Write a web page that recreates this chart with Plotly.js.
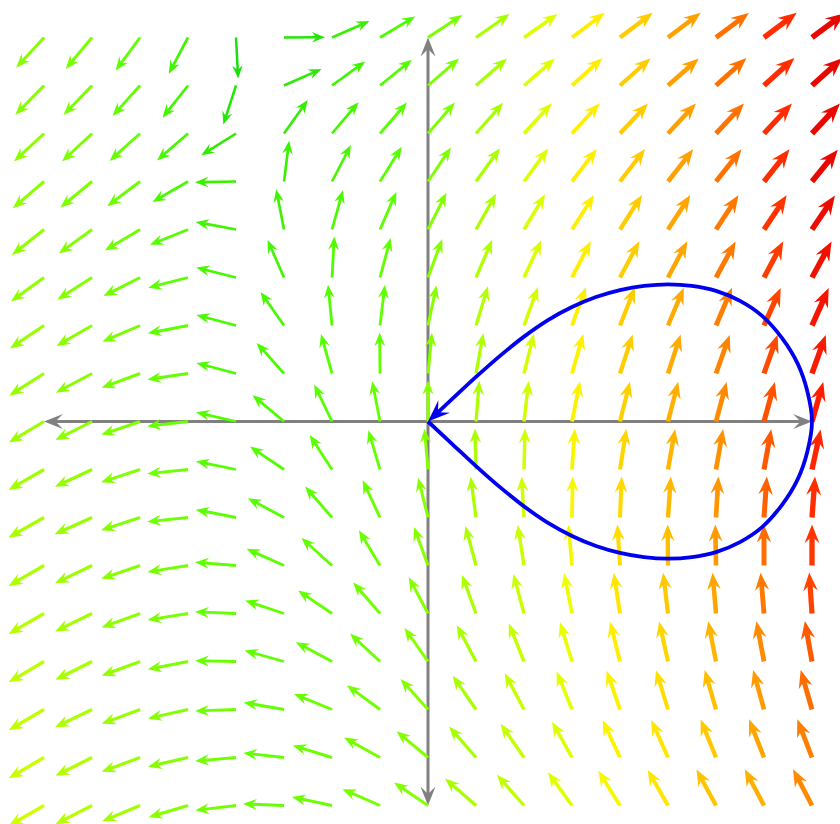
<!DOCTYPE html>
<html><head><meta charset="utf-8">
<script src="https://cdn.plot.ly/plotly-3.0.1.min.js"></script>
<style>html,body{margin:0;padding:0;background:#fff;}#chart{width:840px;height:824px;}</style>
</head><body><div id="chart"></div>
<script>
// grid of the vector field (data units)
const gridX = [-1,-0.875,-0.75,-0.625,-0.5,-0.375,-0.25,-0.125,0,0.125,0.25,0.375,0.5,0.625,0.75,0.875,1];
const gridY = [1,0.875,0.75,0.625,0.5,0.375,0.25,0.125,0,-0.125,-0.25,-0.375,-0.5,-0.625,-0.75,-0.875,-1];

// arrow directions (degrees), one row per y value, columns follow gridX
const angYp1000 = [227.3,230,233.6,242,273,0.5,23.7,31,33.4,35,35,37,37,37,36.7,37,36.5];
const angYp0875 = [225.6,226,228,231.6,252,23.7,36,39,41,41,41,42,41.8,41.4,42,42,42];
const angYp0750 = [223,223,222,221,212,54.6,49.8,48.9,49,48.5,47.5,47.5,47,47,47,47,47];
const angYp0625 = [220.7,219.5,217,210,181,82.8,62.6,58,56,54.3,53.8,52.7,52.3,52,51.6,51.6,51];
const angYp0500 = [218.4,216,211,202,169.4,101,74.4,66.5,63.4,60.6,59,57.4,57.4,57,56.8,56.4,56];
const angYp0375 = [216,212.6,207,194.5,166,113.6,86.8,75,69.7,66.7,65,62.6,62,62,61.5,62,61.5];
const angYp0250 = [214,210,203.4,191,165,125,95.6,83,78,73,70,70,68.6,67.3,67,66,66];
const angYp0125 = [212.4,208,200.5,188.4,165,131.8,105.6,90.5,84.4,79.7,76,74,72,72,70.4,70.5,70.4];
const angY0000  = [211,206.8,199,186.5,167,140,115.7,101,90,85.3,83.3,78.7,76,75.5,75,74.6,74];
const angYm0125 = [210,205,198,186,168.5,146,123,106.5,95,91.4,88.5,86,81,80,80,79.8,77.8];
const angYm0250 = [209.5,204,198,186,169,152,131,115,104,97.5,93.3,89,87.7,86,86.7,86,85.8];
const angYm0375 = [210,205.7,199,189,175.4,156,138,121,110,105,98.8,95,93.7,90.5,91,90,90];
const angYm0500 = [210,206,200,189,177.7,161.4,145.8,130.7,118,110,105,101,98.7,96.8,94.8,94.8,93.9];
const angYm0625 = [210.5,206.6,200.3,191,179,164.4,151.8,137,125,117.8,111.8,107,104,102.5,101,100.6,100];
const angYm0750 = [210.5,205.7,200.5,192.6,182,170,157.8,143.7,132,124.5,118,112,109,107,106,105.4,106];
const angYm0875 = [210.5,206.6,200.5,193,185,173.7,163,151,140,131,124.7,119,115,114,112,111.4,111];
const angYm1000 = [210,207,202.6,196.5,186.8,177.7,168,156.5,146,139,131.4,126,122,119.7,118.5,118,117.6];

// relative field strength (0..1)
const magYp1000 = [.30,.27,.22,.14,.02,.06,.12,.18,.27,.36,.47,.56,.64,.73,.81,.91,.98];
const magYp0875 = [.30,.27,.22,.15,.06,.08,.14,.19,.27,.36,.47,.56,.64,.73,.81,.91,.98];
const magYp0750 = [.31,.27,.23,.16,.09,.10,.15,.20,.28,.36,.47,.56,.64,.73,.81,.91,.98];
const magYp0625 = [.31,.28,.24,.17,.12,.12,.16,.20,.28,.37,.47,.56,.64,.73,.81,.91,.98];
const magYp0500 = [.32,.29,.25,.20,.14,.13,.17,.21,.29,.37,.46,.56,.64,.72,.80,.90,.97];
const magYp0375 = [.32,.29,.26,.21,.16,.15,.18,.22,.30,.38,.46,.56,.64,.72,.80,.89,.96];
const magYp0250 = [.33,.30,.27,.22,.17,.16,.19,.22,.30,.38,.45,.55,.64,.71,.79,.88,.95];
const magYp0125 = [.33,.30,.27,.23,.18,.17,.20,.22,.30,.37,.45,.55,.64,.71,.78,.87,.94];
const magY0000  = [.34,.31,.28,.24,.19,.18,.20,.23,.30,.37,.44,.55,.63,.70,.77,.86,.93];
const magYm0125 = [.35,.32,.29,.25,.20,.19,.21,.23,.30,.37,.44,.54,.62,.69,.76,.85,.92];
const magYm0250 = [.36,.33,.29,.25,.21,.20,.21,.24,.30,.37,.44,.53,.61,.68,.75,.84,.91];
const magYm0375 = [.37,.34,.30,.26,.22,.21,.22,.24,.30,.37,.43,.52,.60,.67,.74,.82,.90];
const magYm0500 = [.39,.35,.31,.27,.23,.22,.23,.25,.30,.37,.43,.50,.58,.65,.72,.80,.88];
const magYm0625 = [.40,.36,.32,.28,.24,.22,.23,.25,.30,.36,.42,.49,.56,.62,.69,.77,.85];
const magYm0750 = [.41,.37,.33,.29,.25,.23,.24,.25,.30,.36,.42,.48,.55,.60,.67,.74,.82];
const magYm0875 = [.43,.38,.34,.29,.25,.23,.24,.26,.29,.36,.42,.47,.54,.58,.65,.72,.79];
const magYm1000 = [.44,.39,.35,.30,.26,.24,.24,.26,.29,.36,.41,.47,.53,.58,.66,.70,.77];

// closed curve, traversed from the origin (lower branch first, then back along the upper branch)
const curveX = [0,0.0625,0.125,0.1875,0.25,0.3125,0.375,0.4375,0.5,0.5625,0.625,0.6875,0.75,0.8125,0.87,0.922,0.963,0.988,1,
                0.988,0.963,0.922,0.87,0.8125,0.75,0.6875,0.625,0.5625,0.5,0.4375,0.375,0.3125,0.25,0.1875,0.125,0.0625,0];
const curveY = [0,-0.058,-0.116,-0.171,-0.221,-0.264,-0.298,-0.324,-0.342,-0.353,-0.357,-0.353,-0.340,-0.314,-0.275,-0.217,-0.150,-0.078,0,
                0.078,0.150,0.217,0.275,0.314,0.340,0.353,0.357,0.353,0.342,0.324,0.298,0.264,0.221,0.171,0.116,0.058,0];

// coordinate axes extent
const axisMin = -1, axisMax = 1;

const angleRows = [angYp1000,angYp0875,angYp0750,angYp0625,angYp0500,angYp0375,angYp0250,angYp0125,angY0000,angYm0125,angYm0250,angYm0375,angYm0500,angYm0625,angYm0750,angYm0875,angYm1000];
const magRows = [magYp1000,magYp0875,magYp0750,magYp0625,magYp0500,magYp0375,magYp0250,magYp0125,magY0000,magYm0125,magYm0250,magYm0375,magYm0500,magYm0625,magYm0750,magYm0875,magYm1000];

const W = 840, H = 824;
const xRange = [-428/384, (W-428)/384];
const yRange = [-(H-421.5)/384, 421.5/384];
const ppu = W/(xRange[1]-xRange[0]);

const stops = [[0,[17,221,17]],[0.10,[51,238,0]],[0.20,[85,255,0]],[0.30,[136,255,0]],[0.40,[187,255,0]],[0.50,[238,255,0]],[0.56,[255,238,0]],[0.65,[255,200,0]],[0.75,[255,150,0]],[0.85,[255,90,0]],[0.93,[255,30,0]],[1.0,[221,0,0]]];
function colorOf(m){
  m = Math.max(0, Math.min(1, m));
  for(let k=1;k<stops.length;k++){
    if(m<=stops[k][0]){
      const a=stops[k-1], b=stops[k];
      const t=(m-a[0])/(b[0]-a[0]);
      const c=a[1].map((v,i)=>Math.round(v+(b[1][i]-v)*t));
      return 'rgb('+c.join(',')+')';
    }
  }
  return 'rgb(221,0,0)';
}
const f = v => v.toFixed(5);
function headPath(tx,ty,dx,dy,hl,hw,notch){
  const nx=-dy, ny=dx;
  const bx=tx-hl*dx, by=ty-hl*dy;
  return 'M'+f(tx)+','+f(ty)+
    ' L'+f(bx+hw*nx)+','+f(by+hw*ny)+
    ' L'+f(tx-notch*hl*dx)+','+f(ty-notch*hl*dy)+
    ' L'+f(bx-hw*nx)+','+f(by-hw*ny)+' Z';
}

const shapes = [];
// grey coordinate axes with arrowheads at both ends
function axisArrow(x0,y0,x1,y1){
  const len=Math.hypot(x1-x0,y1-y0), dx=(x1-x0)/len, dy=(y1-y0)/len;
  const hl=19/ppu, hw=7.5/ppu;
  shapes.push({type:'line',xref:'x',yref:'y',layer:'below',
    x0:x0+0.5*hl*dx,y0:y0+0.5*hl*dy,x1:x1-0.5*hl*dx,y1:y1-0.5*hl*dy,
    line:{color:'#808080',width:3}});
  shapes.push({type:'path',xref:'x',yref:'y',layer:'below',path:headPath(x1,y1,dx,dy,hl,hw,0.6),fillcolor:'#808080',line:{width:0}});
  shapes.push({type:'path',xref:'x',yref:'y',layer:'below',path:headPath(x0,y0,-dx,-dy,hl,hw,0.6),fillcolor:'#808080',line:{width:0}});
}
axisArrow(axisMin,0,axisMax,0);
axisArrow(0,axisMin,0,axisMax);

// vector field arrows (normalised length)
const arrowLen = 41/ppu;
gridY.forEach((yv,j)=>{
  gridX.forEach((xv,i)=>{
    const th=angleRows[j][i]*Math.PI/180, m=magRows[j][i];
    const dx=Math.cos(th), dy=Math.sin(th);
    const w=2.5+3.3*Math.pow(m,1.5);
    const hl=(8+2.0*w)/ppu, hw=0.4*hl;
    const tx=xv+arrowLen*dx, ty=yv+arrowLen*dy;
    const col=colorOf(m);
    shapes.push({type:'line',xref:'x',yref:'y',layer:'below',
      x0:xv,y0:yv,x1:tx-0.6*hl*dx,y1:ty-0.6*hl*dy,line:{color:col,width:w}});
    shapes.push({type:'path',xref:'x',yref:'y',layer:'below',
      path:headPath(tx,ty,dx,dy,hl,hw,0.65),fillcolor:col,line:{width:0}});
  });
});

// blue curve with arrowhead at its end
const n=curveX.length;
const ex=curveX[n-1], ey=curveY[n-1];
const px=curveX[n-2], py=curveY[n-2];
const dl=Math.hypot(ex-px,ey-py), bdx=(ex-px)/dl, bdy=(ey-py)/dl;
const bhl=22/ppu, bhw=8.5/ppu;
const lineX=curveX.slice(0,n-1).concat([ex-0.55*bhl*bdx]);
const lineY=curveY.slice(0,n-1).concat([ey-0.55*bhl*bdy]);
shapes.push({type:'path',xref:'x',yref:'y',layer:'above',path:headPath(ex,ey,bdx,bdy,bhl,bhw,0.62),fillcolor:'#0000ee',line:{width:0}});

const traces=[{x:lineX,y:lineY,type:'scatter',mode:'lines',
  line:{color:'#0000ee',width:3.8,shape:'spline',smoothing:1},hoverinfo:'skip',showlegend:false}];

const layout={width:W,height:H,margin:{l:0,r:0,t:0,b:0},
  paper_bgcolor:'#ffffff',plot_bgcolor:'#ffffff',showlegend:false,
  xaxis:{range:xRange,visible:false,fixedrange:true},
  yaxis:{range:yRange,visible:false,fixedrange:true},
  shapes:shapes};
Plotly.newPlot('chart',traces,layout,{staticPlot:true,displayModeBar:false});
</script></body></html>
